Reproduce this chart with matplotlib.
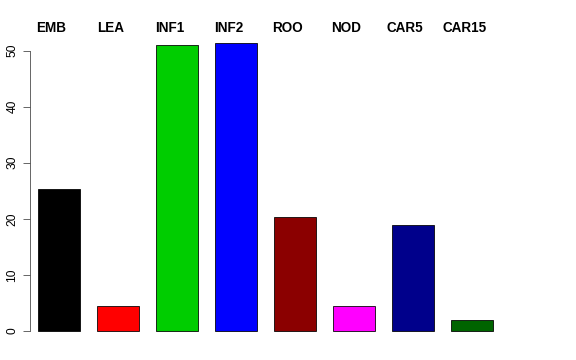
import matplotlib
matplotlib.use("Agg")
import matplotlib.pyplot as plt

# tissue labels and their values
tissues = ["EMB", "LEA", "INF1", "INF2", "ROO", "NOD", "CAR5", "CAR15"]
values = [25.3, 4.45, 51.0, 51.3, 20.3, 4.4, 18.9, 1.95]
colors = ["black", "red", "#00CD00", "blue", "#8B0000", "magenta", "#00008B", "#006400"]
yticks = [0, 10, 20, 30, 40, 50]

plt.rcParams['font.family'] = ['Liberation Sans', 'DejaVu Sans']

fig = plt.figure(figsize=(8, 5), dpi=72)
ax = fig.add_axes([0, 0, 1, 1])

# one x unit = bar pitch (59 px)
pos = [i + 1 for i in range(len(tissues))]
ax.bar(pos, values, width=0.712, color=colors, edgecolor="black", linewidth=0.8)

for x, name in zip(pos, tissues):
    ax.text(x - 0.13, 54.0, name, ha="center", va="center",
            fontsize=13.5, fontweight="bold")

ax.set_xlim(0, 576 / 59)
ax.set_ylim(-29 / 5.61, 331 / 5.61)

for s in ["top", "right", "bottom"]:
    ax.spines[s].set_visible(False)
ax.spines["left"].set_position(("data", 29.5 / 59))
ax.spines["left"].set_bounds(0, 50)
ax.spines["left"].set_color("#444444")
ax.set_xticks([])
ax.set_yticks(yticks)
ax.set_yticklabels([str(t) for t in yticks], rotation=90, va="center", fontsize=12)
ax.tick_params(axis="y", length=7, color="#444444", pad=4)

fig.savefig("out.png", dpi=72)
